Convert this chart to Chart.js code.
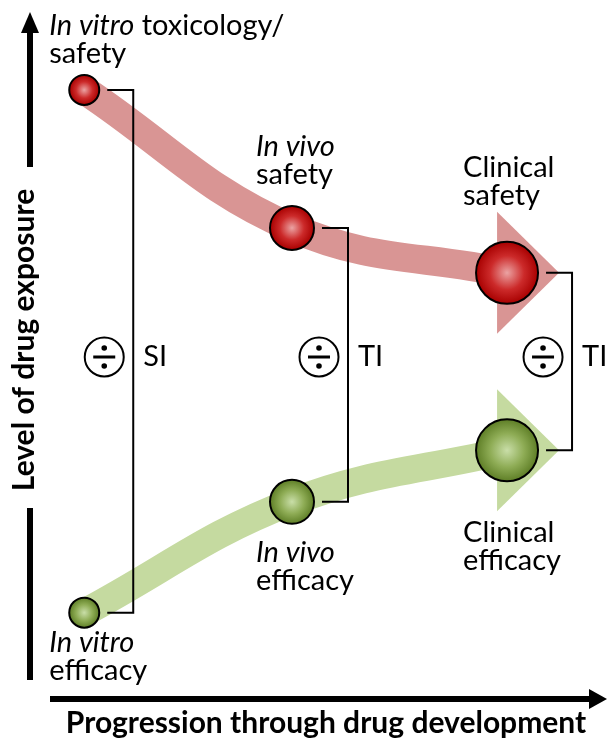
<!DOCTYPE html>
<html lang="en">
<head>
    <meta charset="UTF-8">
    <title>Drug exposure through development</title>
    <script src="https://cdn.jsdelivr.net/npm/chart.js"></script>
    <style>
        body { margin: 0; background: #ffffff; }
        canvas { display: block; }
    </style>
</head>
<body>
    <canvas id="exposureChart" width="608" height="740"></canvas>

    <script>
        // stages of development and exposure levels (arbitrary units, 0-100)
        const stages = ['In vitro', 'In vivo', 'Clinical'];
        const italicStage = [true, true, false];
        const stageProgress = [7.9, 45.0, 83.4];
        const safetyExposure = [89.4, 68.5, 61.7];
        const efficacyExposure = [10.2, 27.0, 34.8];
        const safetyExtra = [' toxicology/', '', ''];
        const indexNames = ['SI', 'TI', 'TI'];

        // look
        const dotRadius = [15, 22, 31];
        const labelDx = [-35, -36, -44];
        const safetyBaseline = [-55, -72, -96];
        const efficacyBaseline = [39, 60, 92];
        const lineGap = 28;
        const divideY = 357;
        const fontName = 'Lato';
        const labelFont = '29px ' + fontName;
        const titleFont = 'bold 30px ' + fontName;

        const safetyPoints = stageProgress.map((x, i) => ({ x, y: safetyExposure[i] }));
        const efficacyPoints = stageProgress.map((x, i) => ({ x, y: efficacyExposure[i] }));

        function ballFill(inner, mid, outer) {
            return (ctx) => {
                if (!ctx.raw) return outer;
                const chart = ctx.chart;
                const cx = chart.scales.x.getPixelForValue(ctx.raw.x);
                const cy = chart.scales.y.getPixelForValue(ctx.raw.y);
                if (!isFinite(cx) || !isFinite(cy)) return outer;
                const r = dotRadius[ctx.dataIndex];
                const g = chart.ctx.createRadialGradient(cx, cy, 0, cx, cy, r);
                g.addColorStop(0, inner);
                g.addColorStop(0.55, mid);
                g.addColorStop(1, outer);
                return g;
            };
        }

        function drawLabel(ctx, x, y, first, italic, extra, second) {
            ctx.textAlign = 'left';
            ctx.textBaseline = 'alphabetic';
            ctx.font = (italic ? 'italic ' : '') + labelFont;
            ctx.fillText(first, x, y);
            const w = ctx.measureText(first).width;
            ctx.font = labelFont;
            if (extra) ctx.fillText(extra, x + w, y);
            ctx.fillText(second, x, y + lineGap);
        }

        const diagram = {
            id: 'diagram',
            beforeDatasetsDraw(chart) {
                const ctx = chart.ctx;
                const sx = chart.scales.x, sy = chart.scales.y;
                const heads = [[safetyPoints, '#d99594'], [efficacyPoints, '#c5daa0']];
                heads.forEach(([pts, color]) => {
                    const last = pts[pts.length - 1];
                    const cx = sx.getPixelForValue(last.x);
                    const cy = sy.getPixelForValue(last.y);
                    ctx.save();
                    ctx.fillStyle = color;
                    ctx.beginPath();
                    ctx.moveTo(cx - 10, cy - 61);
                    ctx.lineTo(cx + 52, cy);
                    ctx.lineTo(cx - 10, cy + 61);
                    ctx.closePath();
                    ctx.fill();
                    ctx.restore();
                });
            },
            afterDatasetsDraw(chart) {
                const ctx = chart.ctx;
                const sx = chart.scales.x, sy = chart.scales.y;
                ctx.save();
                ctx.strokeStyle = '#000';
                ctx.fillStyle = '#000';
                stages.forEach((name, i) => {
                    const cx = sx.getPixelForValue(stageProgress[i]);
                    const top = sy.getPixelForValue(safetyExposure[i]);
                    const bottom = sy.getPixelForValue(efficacyExposure[i]);
                    const r = dotRadius[i] + 1;
                    const x0 = cx + r + 7;
                    const x1 = cx + r + 33;

                    // bracket joining safety and efficacy
                    ctx.lineWidth = 2;
                    ctx.beginPath();
                    ctx.moveTo(x0, top);
                    ctx.lineTo(x1, top);
                    ctx.lineTo(x1, bottom);
                    ctx.lineTo(x0, bottom);
                    ctx.stroke();

                    // divide sign
                    const dx = x1 - 29;
                    ctx.beginPath();
                    ctx.arc(dx, divideY, 19.5, 0, Math.PI * 2);
                    ctx.stroke();
                    ctx.fillRect(dx - 11, divideY - 1.5, 22, 3);
                    ctx.beginPath();
                    ctx.arc(dx, divideY - 9, 2.8, 0, Math.PI * 2);
                    ctx.arc(dx, divideY + 9, 2.8, 0, Math.PI * 2);
                    ctx.fill();

                    ctx.font = labelFont;
                    ctx.textAlign = 'left';
                    ctx.textBaseline = 'alphabetic';
                    ctx.fillText(indexNames[i], x1 + 10, divideY + 9);

                    // labels
                    drawLabel(ctx, cx + labelDx[i], top + safetyBaseline[i], name, italicStage[i], safetyExtra[i], 'safety');
                    drawLabel(ctx, cx + labelDx[i], bottom + efficacyBaseline[i], name, italicStage[i], '', 'efficacy');
                });
                ctx.restore();
            },
            afterDraw(chart) {
                const ctx = chart.ctx;
                ctx.save();
                ctx.fillStyle = '#000';

                // vertical axis arrow
                ctx.fillRect(27, 28, 6, 139);
                ctx.beginPath();
                ctx.moveTo(30, 12);
                ctx.lineTo(39, 33);
                ctx.lineTo(21, 33);
                ctx.closePath();
                ctx.fill();
                ctx.fillRect(27, 508, 6, 172);

                // horizontal axis arrow
                ctx.fillRect(50, 696, 541, 6);
                ctx.beginPath();
                ctx.moveTo(607, 699);
                ctx.lineTo(589, 689);
                ctx.lineTo(589, 709);
                ctx.closePath();
                ctx.fill();

                ctx.font = titleFont;
                ctx.textBaseline = 'alphabetic';
                ctx.textAlign = 'center';
                ctx.fillText('Progression through drug development', 326, 733);

                ctx.translate(34, 340);
                ctx.rotate(-Math.PI / 2);
                ctx.fillText('Level of drug exposure', 0, 0);
                ctx.restore();
            }
        };

        new Chart(document.getElementById('exposureChart'), {
            type: 'scatter',
            data: {
                datasets: [
                    {
                        label: 'Safety',
                        data: safetyPoints,
                        order: 0,
                        pointRadius: dotRadius,
                        pointHoverRadius: dotRadius,
                        pointBorderWidth: 2,
                        pointBorderColor: '#000',
                        pointBackgroundColor: ballFill('#eba3a3', '#cc2a2a', '#a80000')
                    },
                    {
                        label: 'Efficacy',
                        data: efficacyPoints,
                        order: 0,
                        pointRadius: dotRadius,
                        pointHoverRadius: dotRadius,
                        pointBorderWidth: 2,
                        pointBorderColor: '#000',
                        pointBackgroundColor: ballFill('#c9dea8', '#8eac55', '#5e7e26')
                    },
                    {
                        type: 'line',
                        label: 'Safety path',
                        data: safetyPoints,
                        order: 1,
                        borderColor: '#d99594',
                        borderWidth: 29,
                        borderCapStyle: 'butt',
                        tension: 0.4,
                        pointRadius: 0,
                        fill: false
                    },
                    {
                        type: 'line',
                        label: 'Efficacy path',
                        data: efficacyPoints,
                        order: 1,
                        borderColor: '#c5daa0',
                        borderWidth: 28,
                        borderCapStyle: 'butt',
                        tension: 0.4,
                        pointRadius: 0,
                        fill: false
                    }
                ]
            },
            options: {
                responsive: false,
                animation: false,
                devicePixelRatio: 1,
                layout: { autoPadding: false, padding: { left: 40, right: 8, top: 20, bottom: 60 } },
                plugins: {
                    legend: { display: false },
                    tooltip: { enabled: false }
                },
                scales: {
                    x: { type: 'linear', min: 0, max: 100, display: false },
                    y: { type: 'linear', min: 0, max: 100, display: false }
                }
            },
            plugins: [diagram]
        });
    </script>
</body>
</html>
